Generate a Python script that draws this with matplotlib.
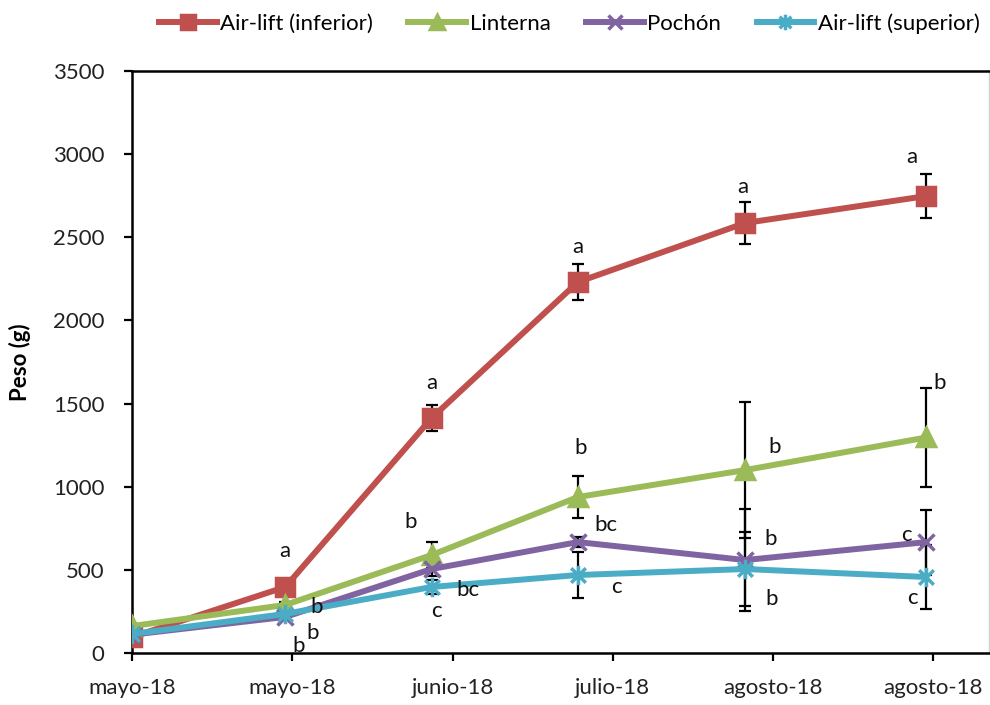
import matplotlib

matplotlib.use("Agg")
import matplotlib.dates as mdates
import matplotlib.pyplot as plt
import numpy as np
from matplotlib.path import Path

plt.rcParams["font.family"] = ["Lato", "DejaVu Sans"]

# sampling dates and axis ticks
sample_dates = ["2018-05-08", "2018-05-30", "2018-06-20", "2018-07-11", "2018-08-04", "2018-08-30"]
tick_dates = ["2018-05-08", "2018-05-31", "2018-06-23", "2018-07-16", "2018-08-08", "2018-08-31"]
tick_labels = ["mayo-18", "mayo-18", "junio-18", "julio-18", "agosto-18", "agosto-18"]
x_end = "2018-09-08"

# mean weight (g) and error per treatment
names = ["Air-lift (inferior)", "Linterna", "Pochón", "Air-lift (superior)"]
inferior = [96, 397, 1413, 2231, 2586, 2748]
inferior_err = [5, 20, 78, 108, 129, 132]
linterna = [162, 289, 589, 938, 1100, 1296]
linterna_err = [5, 15, 78, 126, 409, 300]
pochon = [110, 217, 505, 667, 559, 667]
pochon_err = [5, 10, 40, 30, 307, 195]
superior = [114, 235, 397, 469, 505, 457]
superior_err = [5, 10, 45, 141, 223, 195]

# significance letters per point
inferior_lbl = ["", "a", "a", "a", "a", "a"]
linterna_lbl = ["", "b", "b", "b", "b", "b"]
pochon_lbl = ["", "b", "bc", "bc", "b", "c"]
superior_lbl = ["", "b", "c", "c", "b", "c"]

# label offsets in pixels relative to each point
inferior_off = [(0, 0), (0, 36), (0, 35), (0, 35), (-2, 36), (-14, 39)]
linterna_off = [(0, 0), (31, -2), (-21, 33), (3, 49), (29, 23), (13, 54)]
pochon_off = [(0, 0), (27, -16), (36, -21), (28, 17), (25, 21), (-20, 7)]
superior_off = [(0, 0), (13, -32), (5, -24), (39, -12), (26, -30), (-14, -21)]

colors = ["#C0504D", "#9BBB59", "#8064A2", "#4BACC6"]

# asterisk marker: vertical stroke plus two diagonals
star = Path(
    [(0, -1), (0, 1), (-0.75, -0.75), (0.75, 0.75), (-0.75, 0.75), (0.75, -0.75)],
    [Path.MOVETO, Path.LINETO, Path.MOVETO, Path.LINETO, Path.MOVETO, Path.LINETO],
)
markers = [("s", 13), ("^", 13), ("x", 12), (star, 14)]

x = mdates.datestr2num(sample_dates)
xt = mdates.datestr2num(tick_dates)

fig = plt.figure(figsize=(9.9, 7.05), dpi=100)
ax = fig.add_axes([132 / 990, 52 / 705, 857 / 990, 582 / 705])

series = [
    (inferior, inferior_err, inferior_lbl, inferior_off),
    (linterna, linterna_err, linterna_lbl, linterna_off),
    (pochon, pochon_err, pochon_lbl, pochon_off),
    (superior, superior_err, superior_lbl, superior_off),
]

for (y, err, lbl, off), name, col, (mk, ms) in zip(series, names, colors, markers):
    ax.plot(x, y, color=col, lw=4.3, marker=mk, ms=ms, mew=2.5,
            mfc=col, mec=col, label=name, zorder=3)

# error bars sit underneath the series so short ones hide behind markers
for (y, err, lbl, off) in series:
    ax.errorbar(x, y, yerr=err, fmt="none", ecolor="black", elinewidth=1.6,
                capsize=4.5, capthick=1.6, zorder=2)
    for xi, yi, t, (dx, dy) in zip(x, y, lbl, off):
        if t:
            ax.annotate(t, (xi, yi), xytext=(dx, dy), textcoords="offset pixels",
                        ha="center", va="center", fontsize=16, color="#111111", zorder=5)

ax.set_xlim(x[0], mdates.datestr2num(x_end))
ax.set_ylim(0, 3500)
ax.set_yticks(np.arange(0, 3501, 500))
ax.set_xticks(xt)
ax.set_xticklabels(tick_labels)
ax.tick_params(axis="both", labelsize=16, colors="black", width=1.6, length=6,
               labelcolor="#222222")
ax.tick_params(axis="y", pad=14)
ax.tick_params(axis="x", pad=12)

for side in ["left", "bottom", "top"]:
    ax.spines[side].set_linewidth(1.8)
    ax.spines[side].set_color("black")
ax.spines["right"].set_color("#D0D0D0")
ax.spines["right"].set_linewidth(1.0)

ax.set_ylabel("Peso (g)", fontsize=16, fontweight="bold", labelpad=16)

fig.legend(loc="center", bbox_to_anchor=(0.575, 0.967), ncol=4, frameon=False,
           fontsize=16, handlelength=2.6, handletextpad=0.15, columnspacing=1.6,
           borderaxespad=0, markerscale=0.8)

fig.savefig("out.png", dpi=100)
plt.close(fig)
